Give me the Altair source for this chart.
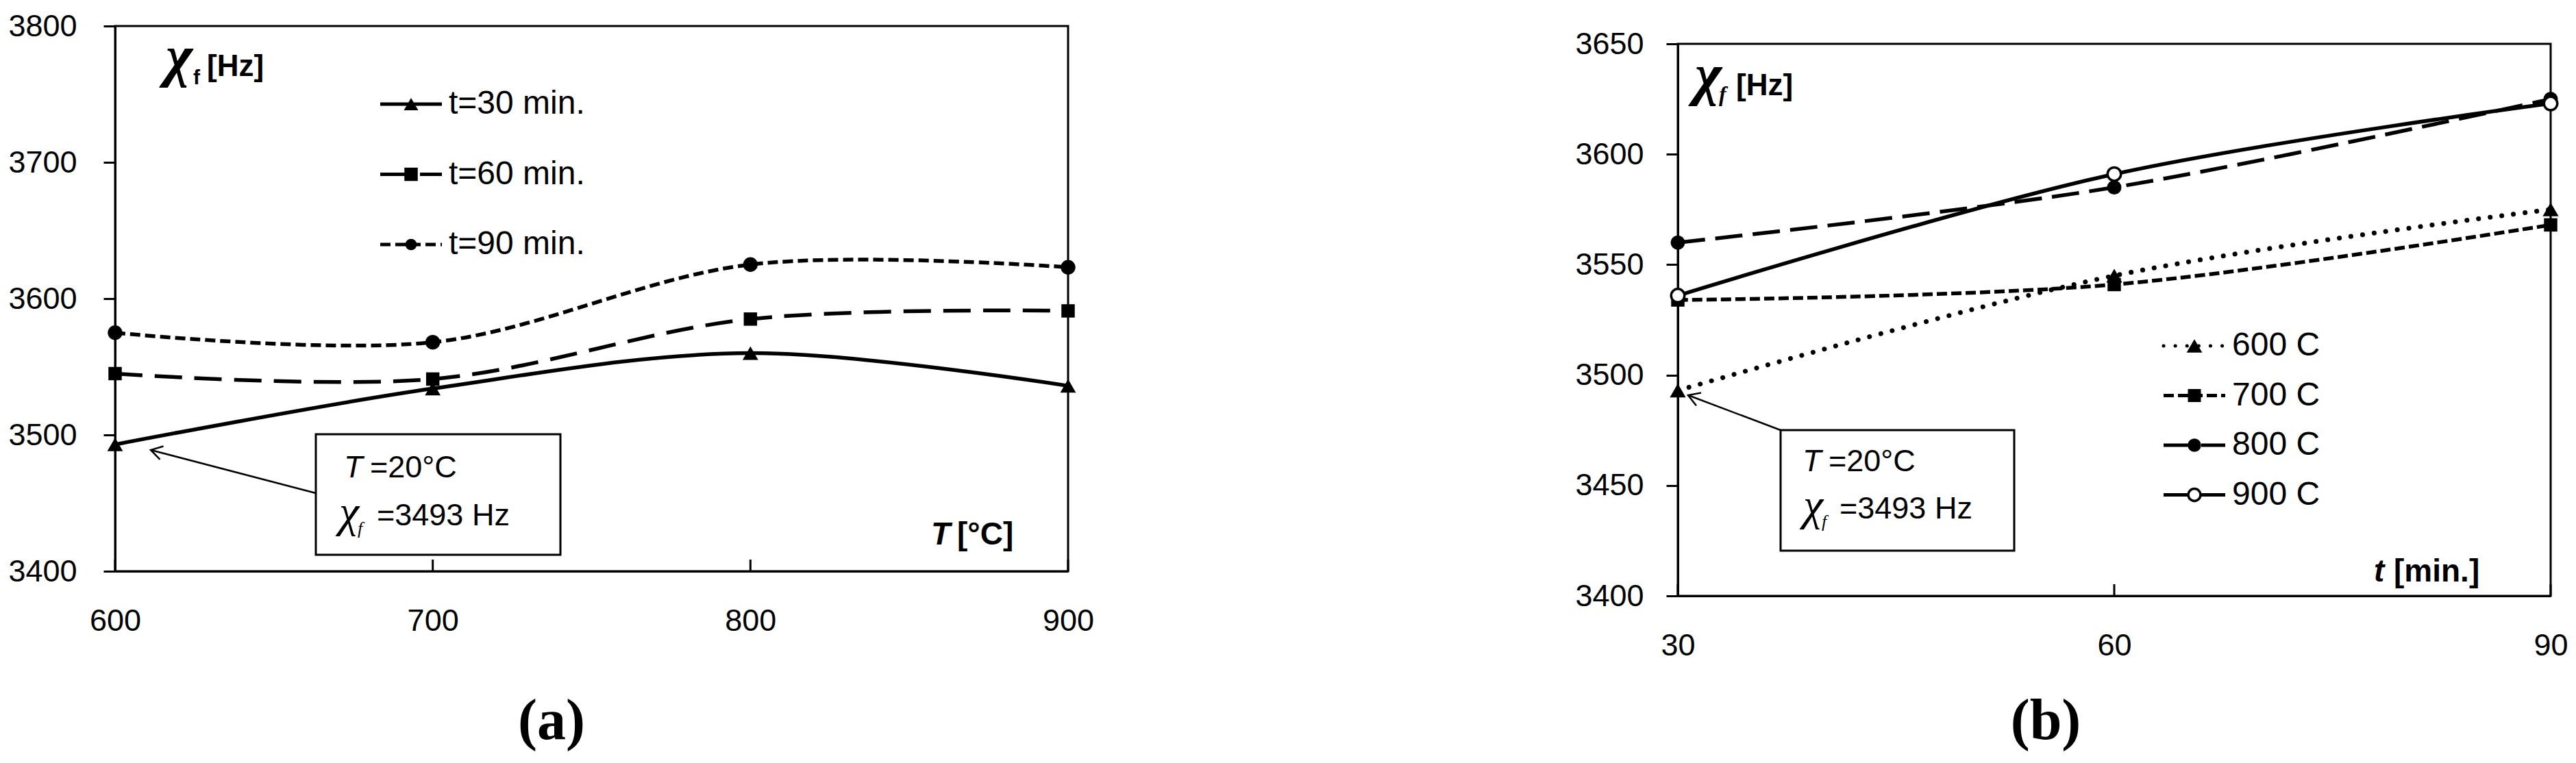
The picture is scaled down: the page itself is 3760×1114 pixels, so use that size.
import altair as alt
import pandas as pd

# ---- values ----
temps = [600, 700, 800, 900]            # treatment temperature T [C]
times = [30, 60, 90]                    # holding time t [min]
chi_t30 = [3493, 3534, 3560, 3536]      # chi_f [Hz] at T = 600..900, t = 30 min
chi_t60 = [3545, 3541, 3585, 3591]      # t = 60 min
chi_t90 = [3575, 3568, 3625, 3623]      # t = 90 min

time_labels = ["t=30 min.", "t=60 min.", "t=90 min."]
temp_labels = ["600 C", "700 C", "800 C", "900 C"]

y_ticks_a = [3400, 3500, 3600, 3700, 3800]
y_ticks_b = [3400, 3450, 3500, 3550, 3600, 3650]

SANS = "Liberation Sans"
SERIF = "Liberation Serif"

# panel (a): chi vs T, one curve per holding time
rows = []
for lab, vals in zip(time_labels, [chi_t30, chi_t60, chi_t90]):
    for T, v in zip(temps, vals):
        rows.append({"series": lab, "x": T, "chi": v})
df_a = pd.DataFrame(rows)

# panel (b): same measurements, chi vs t, one curve per temperature
rows = []
for i, lab in enumerate(temp_labels):
    for t, vals in zip(times, [chi_t30, chi_t60, chi_t90]):
        rows.append({"series": lab, "x": t, "chi": vals[i]})
df_b = pd.DataFrame(rows)

W_A, H_A = 1391, 796
W_B, H_B = 1274, 806


def one_row():
    return pd.DataFrame({"k": [0]})


def text_at(txt, x, y, size, font=SANS, weight="normal", style="normal",
            align="left", baseline="alphabetic"):
    return alt.Chart(pd.DataFrame({"txt": [txt]})).mark_text(
        font=font, fontSize=size, fontWeight=weight, fontStyle=style,
        align=align, baseline=baseline, color="black"
    ).encode(x=alt.value(x), y=alt.value(y), text="txt:N")


def segment(x1, y1, x2, y2, width=2.5):
    return alt.Chart(one_row()).mark_rule(color="black", strokeWidth=width).encode(
        x=alt.value(x1), y=alt.value(y1), x2=alt.value(x2), y2=alt.value(y2))


def box(x1, y1, x2, y2):
    return alt.Chart(one_row()).mark_rect(fill="white", stroke="black", strokeWidth=3).encode(
        x=alt.value(x1), x2=alt.value(x2), y=alt.value(y1), y2=alt.value(y2))


def arrow_head(x, y, angle):
    return alt.Chart(one_row()).mark_point(
        shape="M1,-0.6L0,0L1,0.6", filled=False, color="black", strokeWidth=2.5,
        size=1100, angle=angle, opacity=1
    ).encode(x=alt.value(x), y=alt.value(y))


def legend(labels, line_style, marker_style, x0, y0, gap):
    # Excel-like legend: short line sample, marker in its middle, label
    out = []
    for i, lab in enumerate(labels):
        y = y0 + i * gap
        kw = dict(line_style[lab])
        kw["strokeWidth"] = min(kw["strokeWidth"], 5)
        out.append(alt.Chart(one_row()).mark_rule(color="black", **kw).encode(
            x=alt.value(x0), x2=alt.value(x0 + 90), y=alt.value(y), y2=alt.value(y)))
        out.append(alt.Chart(one_row()).mark_point(opacity=1, **marker_style[lab]).encode(
            x=alt.value(x0 + 45), y=alt.value(y)))
        out.append(text_at(lab, x0 + 100, y, 48, baseline="middle"))
    return out


def panel(df, xdomain, xticks, ydomain, yticks, labels, line_style, point_style, h, ypad):
    x_enc = alt.X("x:Q", title=None,
                  scale=alt.Scale(domain=xdomain, nice=False, zero=False),
                  axis=alt.Axis(values=xticks, ticks=False, labelPadding=50, format="d"))
    y_enc = alt.Y("chi:Q", title=None,
                  scale=alt.Scale(domain=ydomain, nice=False, zero=False),
                  axis=alt.Axis(values=yticks, labelPadding=ypad, format="d",
                                minExtent=158, maxExtent=158))
    layers = []
    for lab in labels:
        layers.append(alt.Chart(df).transform_filter(alt.datum.series == lab).mark_line(
            interpolate="cardinal", color="black", **line_style[lab]
        ).encode(x=x_enc, y=y_enc))
    for lab in labels:
        layers.append(alt.Chart(df).transform_filter(alt.datum.series == lab).mark_point(
            opacity=1, **point_style[lab]
        ).encode(x=x_enc, y=y_enc))
    # inward ticks on the x axis
    layers.append(alt.Chart(pd.DataFrame({"x": xticks})).mark_rule(
        color="black", strokeWidth=3
    ).encode(x=x_enc, y=alt.value(h - 17), y2=alt.value(h)))
    return layers


# ---------- panel (a) ----------
line_a = {
    "t=30 min.": dict(strokeWidth=5.5),
    "t=60 min.": dict(strokeWidth=5.5, strokeDash=[40, 18]),
    "t=90 min.": dict(strokeWidth=5.5, strokeDash=[15, 7]),
}
pts_a = {
    "t=30 min.": dict(shape="triangle-up", size=520, filled=True, color="black"),
    "t=60 min.": dict(shape="square", size=380, filled=True, color="black"),
    "t=90 min.": dict(shape="circle", size=460, filled=True, color="black"),
}
leg_a = {
    "t=30 min.": dict(shape="triangle-up", size=440, filled=True, color="black"),
    "t=60 min.": dict(shape="square", size=380, filled=True, color="black"),
    "t=90 min.": dict(shape="circle", size=280, filled=True, color="black"),
}
layers_a = panel(df_a, [600, 900], temps, [3400, 3800], y_ticks_a, time_labels,
                 line_a, pts_a, H_A, 39)
layers_a += legend(time_labels, line_a, leg_a, 387, 114, 102.5)
layers_a += [
    box(293, 596, 650, 772),
    segment(52, 619, 293, 682),
    arrow_head(52, 619, 14.6),
    text_at("T", 334, 659, 45, style="italic"),
    text_at("=20°C", 372, 659, 45),
    text_at("χ", 327, 731, 66, font=SERIF, style="italic"),
    text_at("f", 354, 742, 26, font=SERIF, style="italic"),
    text_at("=3493 Hz", 382, 729, 45),
    text_at("χ", 74, 72, 84, font=SERIF, weight="bold", style="italic"),
    text_at("f", 114, 85, 30, weight="bold"),
    text_at("[Hz]", 134, 73, 44, weight="bold"),
    text_at("T", 1191, 757, 46, weight="bold", style="italic"),
    text_at("[°C]", 1229, 757, 46, weight="bold"),
    text_at("(a)", 637, 1041, 84, font=SERIF, weight="bold", align="center"),
]
left = alt.layer(*layers_a).properties(width=W_A, height=H_A)

# ---------- panel (b) ----------
line_b = {
    "600 C": dict(strokeWidth=7, strokeDash=[0.1, 17], strokeCap="round"),
    "700 C": dict(strokeWidth=5.5, strokeDash=[15, 6]),
    "800 C": dict(strokeWidth=5.5, strokeDash=[40, 15]),
    "900 C": dict(strokeWidth=5.5),
}
pts_b = {
    "600 C": dict(shape="triangle-up", size=540, filled=True, color="black"),
    "700 C": dict(shape="square", size=380, filled=True, color="black"),
    "800 C": dict(shape="circle", size=440, filled=True, color="black"),
    "900 C": dict(shape="circle", size=380, filled=True, fill="white", stroke="black", strokeWidth=3.5),
}
leg_b = {
    "600 C": dict(shape="triangle-up", size=520, filled=True, color="black"),
    "700 C": dict(shape="square", size=360, filled=True, color="black"),
    "800 C": dict(shape="circle", size=380, filled=True, color="black"),
    "900 C": dict(shape="circle", size=320, filled=True, fill="white", stroke="black", strokeWidth=3.5),
}
layers_b = panel(df_b, [30, 90], times, [3400, 3650], y_ticks_b, temp_labels,
                 line_b, pts_b, H_B, 33)
layers_b += legend(temp_labels, line_b, leg_b, 709, 441, 72.5)
layers_b += [
    box(150, 564, 491, 740),
    segment(15, 513, 150, 564),
    arrow_head(15, 513, 20.7),
    text_at("T", 182, 624, 45, style="italic"),
    text_at("=20°C", 220, 624, 45),
    text_at("χ", 183, 695, 66, font=SERIF, style="italic"),
    text_at("f", 210, 706, 26, font=SERIF, style="italic"),
    text_at("=3493 Hz", 236, 693, 45),
    text_at("χ", 25, 73, 84, font=SERIF, weight="bold", style="italic"),
    text_at("f", 60, 84, 32, font=SERIF, weight="bold", style="italic"),
    text_at("[Hz]", 85, 75, 44, weight="bold"),
    text_at("t", 1016, 785, 46, weight="bold", style="italic"),
    text_at("[min.]", 1045, 785, 46, weight="bold"),
    text_at("(b)", 537, 1015, 84, font=SERIF, weight="bold", align="center"),
]
right = alt.layer(*layers_b).properties(width=W_B, height=H_B)

# empty strip so panel (b) sits a little lower than panel (a)
spacer = alt.Chart(one_row()).mark_point(opacity=0).encode(
    x=alt.value(0), y=alt.value(0)
).properties(width=W_B, height=26, view=alt.ViewBackground(stroke="transparent"))

right_col = alt.vconcat(spacer, right, spacing=0, bounds="flush")

chart = alt.hconcat(left, right_col, spacing=890, bounds="flush").properties(
    padding={"left": 0, "top": 6, "right": 0, "bottom": 0}
).configure_view(
    stroke="black", strokeWidth=3
).configure_axis(
    domainColor="black", domainWidth=3, tickColor="black", tickWidth=3, tickSize=17,
    labelFont=SANS, labelFontSize=45, labelColor="black", grid=False, labelFlush=False
)

chart.save("out.html", embed_options={"renderer": "svg", "actions": False})
